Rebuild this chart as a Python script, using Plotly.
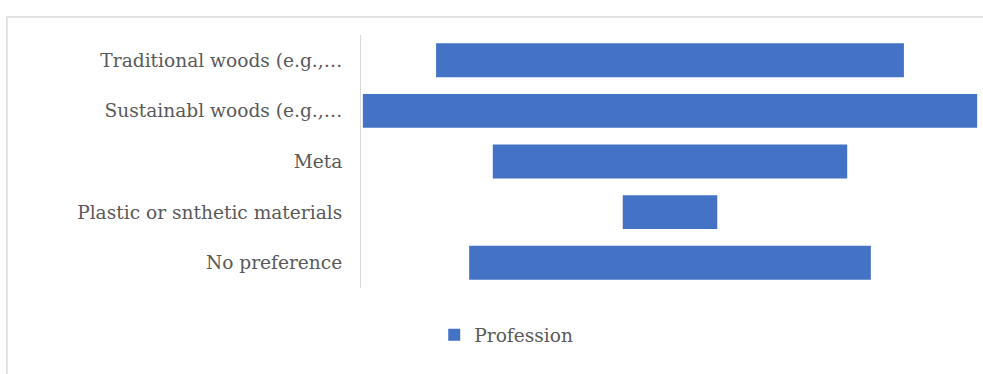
import plotly.graph_objects as go

categories = [
    "Traditional woods (e.g.,…",
    "Sustainabl woods (e.g.,…",
    "Meta",
    "Plastic or snthetic materials",
    "No preference",
]
values = [49.5, 65, 37.5, 10, 42.5]
series_name = "Profession"

fig = go.Figure()
fig.add_trace(go.Funnel(
    y=categories,
    x=values,
    name=series_name,
    marker=dict(color="#4472C4"),
    textinfo="none",
    connector=dict(visible=False),
    hoverinfo="x+y",
    showlegend=True,
))

vmax = max(values)
FONT = "DejaVu Serif"
FS = 18.6
fig.update_layout(
    width=983, height=374,
    margin=dict(l=361, r=4, t=35, b=86),
    paper_bgcolor="white",
    plot_bgcolor="white",
    font=dict(family=FONT, size=FS, color="#595959"),
    funnelgap=0.33,
    xaxis=dict(range=[-vmax / 2 * 1.006, vmax / 2 * 1.006], visible=False, fixedrange=True),
    yaxis=dict(
        showline=True, linecolor="#d9d9d9", linewidth=1,
        ticks="outside", ticklen=14, tickcolor="rgba(0,0,0,0)",
        tickfont=dict(family=FONT, size=FS, color="#595959"),
        showgrid=False,
    ),
    legend=dict(
        orientation="h", x=0.235, xanchor="center", y=-0.186, yanchor="middle",
        font=dict(family=FONT, size=FS, color="#595959"),
    ),
    showlegend=True,
    shapes=[
        dict(type="rect", xref="paper", yref="paper",
             x0=-0.573, x1=1.01, y0=-0.45, y1=1.071,
             line=dict(color="#d9d9d9", width=1.5), fillcolor="rgba(0,0,0,0)", layer="below"),
    ],
)

fig.write_html("out.html")
